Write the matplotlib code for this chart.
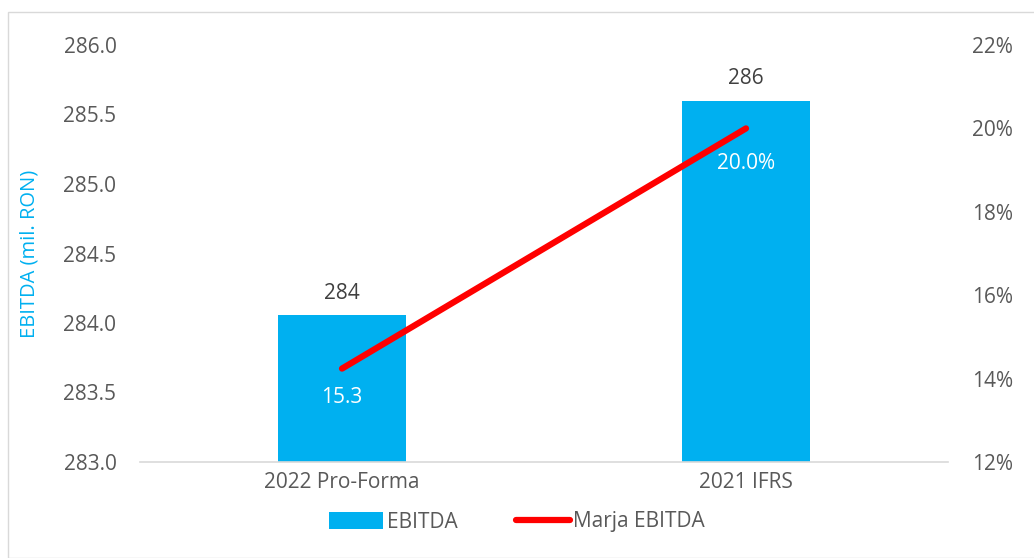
import matplotlib.pyplot as plt
from matplotlib.patches import Rectangle
from matplotlib.ticker import FuncFormatter

categories = ['2022 Pro-Forma', '2021 IFRS']
ebitda = [284.06, 285.60]
ebitda_labels = ['284', '286']
marja = [14.24, 20.0]
marja_labels = ['15.3', '20.0%']

blue = '#00B0F0'
red = '#FF0000'
grey = '#595959'
fs = 15

plt.rcParams['font.family'] = ['Open Sans', 'DejaVu Sans']

fig = plt.figure(figsize=(10.34, 5.58), dpi=100)
ax = fig.add_axes([140 / 1034, 1 - 462 / 558, 808 / 1034, 417 / 558])
ax2 = ax.twinx()

x = range(len(categories))
bars = ax.bar(x, ebitda, width=0.315, color=blue, label='EBITDA', zorder=2)
ax.set_ylim(283.0, 286.0)
ax.set_xlim(-0.5, 1.5)
ax.set_yticks([283.0 + 0.5 * i for i in range(7)])
ax.yaxis.set_major_formatter(FuncFormatter(lambda v, p: f'{v:.1f}'))
ax.set_xticks(list(x))
ax.set_xticklabels(categories)
ax.set_ylabel('EBITDA (mil. RON)', color=blue, fontsize=14.5, labelpad=17)

for i, b in enumerate(bars):
    ax.text(b.get_x() + b.get_width() / 2, ebitda[i] + 0.08, ebitda_labels[i],
            ha='center', va='bottom', fontsize=fs, color='#404040')

line, = ax2.plot(list(x), marja, color=red, lw=4.5, solid_capstyle='round',
                 label='Marja EBITDA', zorder=3)
ax2.set_ylim(12, 22)
ax2.set_yticks(range(12, 23, 2))
ax2.yaxis.set_major_formatter(FuncFormatter(lambda v, p: f'{v:.0f}%'))
ax2.text(0, marja[0] - 0.45, marja_labels[0], ha='center', va='top',
         fontsize=fs, color='white')
ax2.text(1, marja[1] - 0.6, marja_labels[1], ha='center', va='top',
         fontsize=fs, color='white')

for a in (ax, ax2):
    for s in a.spines.values():
        s.set_visible(False)
    a.tick_params(length=0, labelsize=fs, labelcolor=grey)
ax.spines['bottom'].set_visible(True)
ax.spines['bottom'].set_color('#D9D9D9')
ax.spines['bottom'].set_linewidth(1.2)
ax.tick_params(axis='y', pad=17)
ax.tick_params(axis='x', pad=7)
ax2.tick_params(axis='y', pad=17)

fig.legend(handles=[bars, line], labels=['EBITDA', 'Marja EBITDA'],
           loc='center', bbox_to_anchor=(0.5, 1 - 522 / 558), ncol=2,
           frameon=False, fontsize=fs, labelcolor=grey, handlelength=2.6,
           handleheight=0.9, columnspacing=2.8, handletextpad=0.15)

fig.patches.append(Rectangle((8 / 1034, 0), 1.2, 1 - 12 / 558,
                             transform=fig.transFigure, fill=False,
                             edgecolor='#D9D9D9', lw=1))

fig.savefig('out.png', dpi=100)
